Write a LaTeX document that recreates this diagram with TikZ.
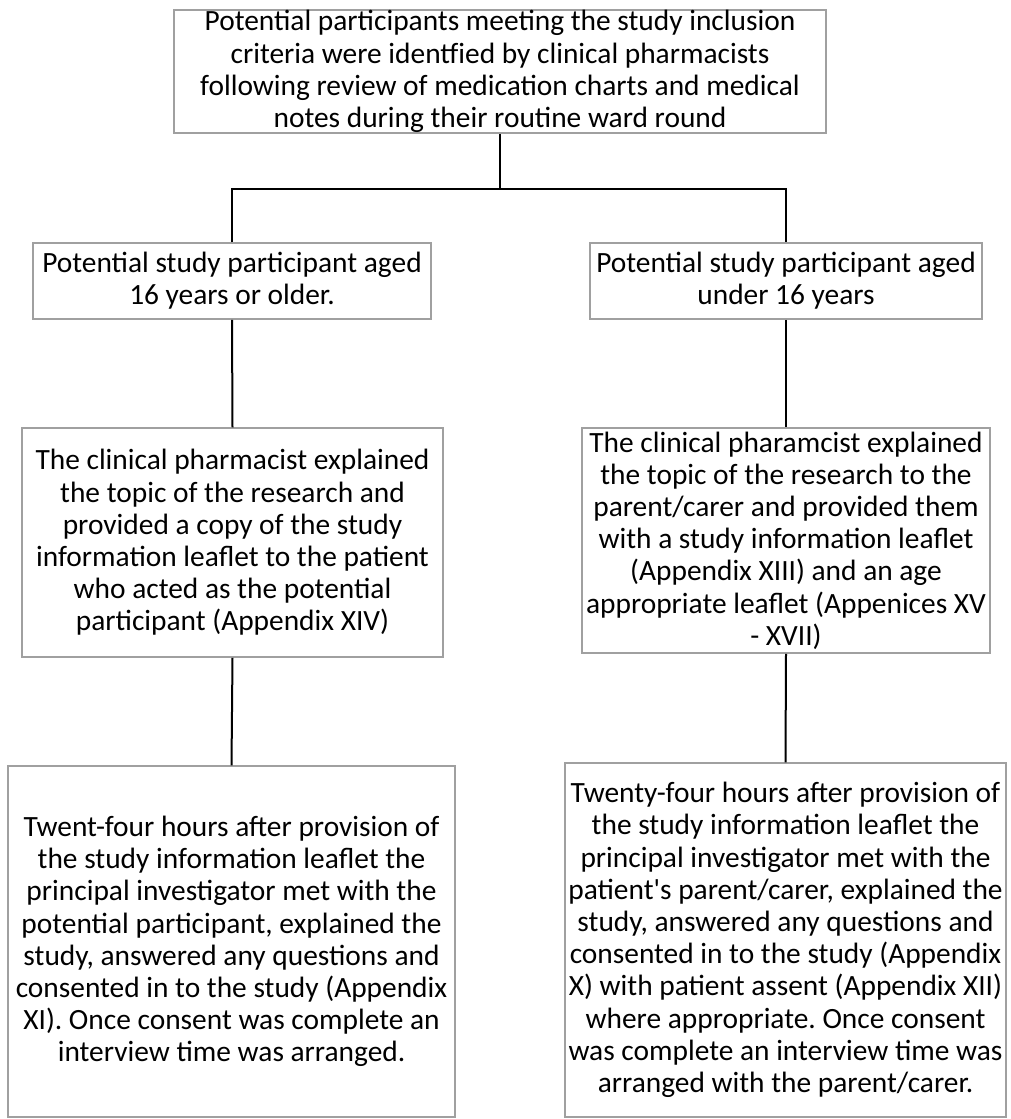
\documentclass[tikz,border=0pt]{standalone}
\usepackage{fontspec}
\setmainfont{Carlito}
\usetikzlibrary{positioning}
\frenchspacing

\tikzset{
  box/.style={draw={rgb,255:red,160;green,160;blue,160}, line width=1.5pt, fill=white,
    inner sep=0pt, align=center, font=\fontsize{29.4}{32.2}\selectfont},
  link/.style={draw=black, line width=2pt}
}

\begin{document}
\begin{tikzpicture}[x=1pt,y=-1pt]
        \useasboundingbox (0,0) rectangle (1011,1119);
        % 定義
        \coordinate (split) at (500,189);
        % 上の箱
        \node[box, minimum width=652pt, minimum height=123pt] (found) at (500,71.5)
          {Potential participants meeting the study inclusion\\
           criteria were identfied by clinical pharmacists\\
           following review of medication charts and medical\\
           notes during their routine ward round};
        % 年齢
        \node[box, minimum width=398pt, minimum height=76pt] (older) at (232,281)
          {Potential study participant aged\\ 16 years or older.};
        \node[box, minimum width=392pt, minimum height=76pt] (under) at (786,281)
          {Potential study participant aged\\ under 16 years};
        % 説明
        \node[box, minimum width=421pt, minimum height=229pt] (explainolder) at (232.5,542.5)
          {The clinical pharmacist explained\\
           the topic of the research and\\
           provided a copy of the study\\
           information leaflet to the patient\\
           who acted as the potential\\
           participant (Appendix XIV)};
        \node[box, minimum width=408pt, minimum height=225pt] (explainunder) at (786,540.5)
          {The clinical pharamcist explained\\
           the topic of the research to the\\
           parent/carer and provided them\\
           with a study information leaflet\\
           (Appendix XIII) and an age\\
           appropriate leaflet (Appenices XV\\
           - XVII)};
        % 同意
        \node[box, minimum width=447pt, minimum height=351pt] (consentolder) at (231.5,941.5)
          {Twent-four hours after provision of\\
           the study information leaflet the\\
           principal investigator met with the\\
           potential participant, explained the\\
           study, answered any questions and\\
           consented in to the study (Appendix\\
           XI). Once consent was complete an\\
           interview time was arranged.};
        \node[box, minimum width=441pt, minimum height=354pt] (consentunder) at (785.5,940)
          {Twenty-four hours after provision of\\
           the study information leaflet the\\
           principal investigator met with the\\
           patient\textquotesingle s parent/carer, explained the\\
           study, answered any questions and\\
           consented in to the study (Appendix\\
           X) with patient assent (Appendix XII)\\
           where appropriate. Once consent\\
           was complete an interview time was\\
           arranged with the parent/carer.};
        % 線
        \draw[link] (found.south) -- (split);
        \draw[link] (older.north) |- (split) -| (under.north);
        \draw[link] (older.south) -- (explainolder.north);
        \draw[link] (under.south) -- (explainunder.north);
        \draw[link] (explainolder.south) -- (consentolder.north);
        \draw[link] (explainunder.south) -- (consentunder.north);
    \end{tikzpicture}
\end{document}
